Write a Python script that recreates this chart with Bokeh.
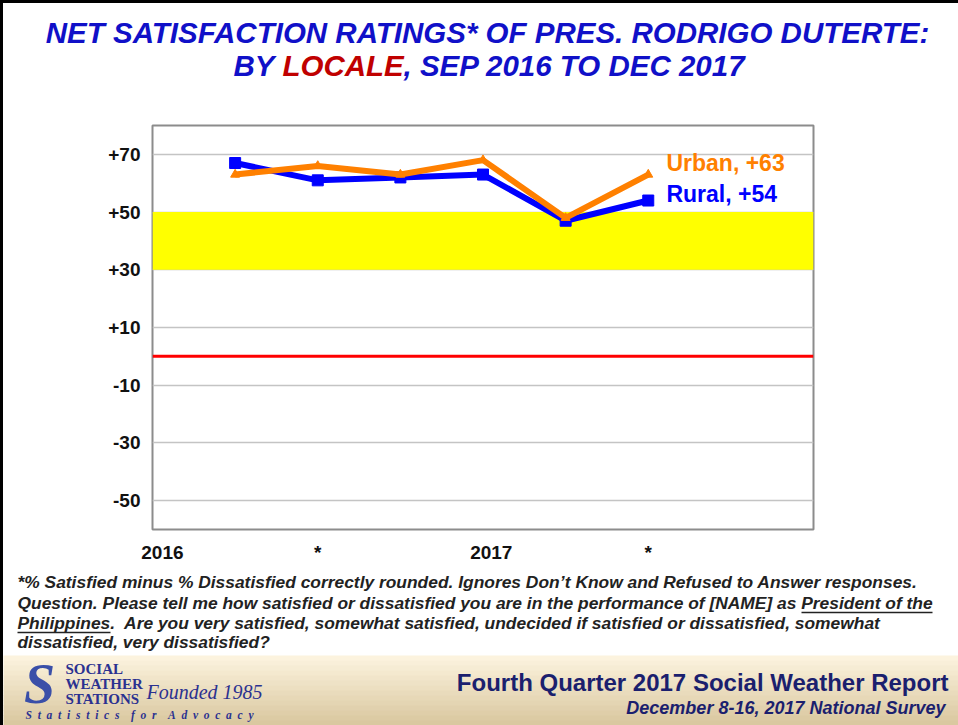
from bokeh.plotting import figure
from bokeh.models import Range1d, FixedTicker, Span, BoxAnnotation, Spacer
from bokeh.layouts import column, row
from bokeh.core.properties import value
from bokeh.embed import file_html
from bokeh.resources import INLINE

# ---------------- data ----------------
quarters = ["Sep 2016", "Dec 2016", "Mar 2017", "Jun 2017", "Sep 2017", "Dec 2017"]
rural = [67, 61, 62, 63, 47, 54]
urban = [63, 66, 63, 68, 48, 63]

y_ticks = [70, 50, 30, 10, -10, -30, -50]
y_tick_labels = ["+70", "+50", "+30", "+10", "-10", "-30", "-50"]
x_tick_pos = [-0.88, 1.0, 3.1, 5.0]
x_tick_labels = ["2016", "*", "2017", "*"]

band_low, band_high = 30, 50
zero_level = 0
y_min, y_max = -60, 80
x_min, x_max = -1, 7

title_line1 = "NET SATISFACTION RATINGS* OF PRES. RODRIGO DUTERTE:"
title_line2 = ["BY", "LOCALE", ", SEP 2016 TO DEC 2017"]
footnote_lines = [
    "*% Satisfied minus % Dissatisfied correctly rounded. Ignores Don\u2019t Know and Refused to Answer responses.",
    "Question. Please tell me how satisfied or dissatisfied you are in the performance of [NAME] as President of the",
    "Philippines.\u00a0 Are you very satisfied, somewhat satisfied, undecided if satisfied or dissatisfied, somewhat",
    "dissatisfied, very dissatisfied?",
]
report_title = "Fourth Quarter 2017 Social Weather Report"
report_sub = "December 8-16, 2017 National Survey"
logo_lines = ["SOCIAL", "WEATHER", "STATIONS"]
logo_founded = "Founded 1985"
logo_words = ["Statistics", "for", "Advocacy"]

# ---------------- styles ----------------
PAGE_W = 958
BW = 3                      # black frame line at left and top
W = PAGE_W - BW
BLUE_T = "#1010C8"
RED_T = "#C00000"
NAVY = "#1B1F6E"
ORANGE = "#FF8000"
BLUE = "#0000FF"
SANS = "'Liberation Sans', Arial, sans-serif"
SERIF = "'Liberation Serif', 'Times New Roman', serif"

# ---------------- title figure ----------------
TH = 100
t = figure(width=W, height=TH - BW, x_range=Range1d(BW, PAGE_W), y_range=Range1d(TH, BW),
           x_axis_type=None, y_axis_type=None, output_backend="svg",
           toolbar_location=None, min_border=0, frame_align=False)
t.grid.visible = False
t.outline_line_color = None
tkw = dict(text_font=value(SANS), text_font_style="bold italic", text_font_size="29.5px",
           text_baseline="middle")
t.text(x=[487], y=[32], text=[title_line1], text_color=BLUE_T, text_align="center", **tkw)
t.text(x=[233], y=[65], text=[title_line2[0]], text_color=BLUE_T, text_align="left", **tkw)
t.text(x=[282], y=[65], text=[title_line2[1]], text_color=RED_T, text_align="left", **tkw)
t.text(x=[403], y=[65], text=[title_line2[2]], text_color=BLUE_T, text_align="left", **tkw)

# ---------------- main chart ----------------
MH = 470
p = figure(width=W, height=MH, x_range=Range1d(x_min, x_max), y_range=Range1d(y_min, y_max),
           output_backend="svg", toolbar_location=None,
           min_border_left=152 - BW, min_border_right=145, min_border_top=25, min_border_bottom=41)
p.outline_line_color = "#8C8C8C"
p.outline_line_width = 2
p.background_fill_color = "white"

p.yaxis.ticker = FixedTicker(ticks=y_ticks)
p.yaxis.major_label_overrides = {k: v for k, v in zip(y_ticks, y_tick_labels)}
p.xaxis.ticker = FixedTicker(ticks=x_tick_pos)
p.xaxis.major_label_overrides = {k: v for k, v in zip(x_tick_pos, x_tick_labels)}
for ax in (p.xaxis, p.yaxis):
    ax.axis_line_color = None
    ax.major_tick_line_color = None
    ax.minor_tick_line_color = None
    ax.major_label_text_font = SANS
    ax.major_label_text_font_style = "bold"
    ax.major_label_text_font_size = "19px"
    ax.major_label_text_color = "#111111"
p.yaxis.major_label_standoff = 6
p.xaxis.major_label_standoff = 6
p.xgrid.visible = False
p.ygrid.grid_line_color = "#C4C4C4"
p.ygrid.grid_line_width = 1.5

p.add_layout(BoxAnnotation(bottom=band_low, top=band_high, fill_color="#FFFF00",
                           fill_alpha=1.0, line_color=None, level="underlay"))
p.add_layout(Span(location=zero_level, dimension="width", line_color="#FF0000", line_width=3))

xs = list(range(len(quarters)))
p.line(xs, rural, line_color=BLUE, line_width=6)
p.scatter(xs, rural, marker="square", size=11, color=BLUE)
p.line(xs, urban, line_color=ORANGE, line_width=6)
p.scatter(xs, urban, marker="triangle", size=9, color=ORANGE)

lx = xs[-1] + 0.22
p.text(x=[lx], y=[urban[-1] + 4], text=[f"Urban, +{urban[-1]}"], text_font=value(SANS),
       text_font_style="bold", text_font_size="23px", text_color=ORANGE,
       text_baseline="middle", text_align="left")
p.text(x=[lx], y=[rural[-1] + 2.4], text=[f"Rural, +{rural[-1]}"], text_font=value(SANS),
       text_font_style="bold", text_font_size="23px", text_color=BLUE,
       text_baseline="middle", text_align="left")

# ---------------- footer figure ----------------
FH = 725 - TH - MH
f = figure(width=W, height=FH, x_range=Range1d(BW, PAGE_W), y_range=Range1d(FH, 0),
           x_axis_type=None, y_axis_type=None, output_backend="svg",
           toolbar_location=None, min_border=0, frame_align=False)
f.grid.visible = False
f.outline_line_color = None

foot_y = [11, 32, 52, 71]
f.text(x=[17] * 4, y=foot_y, text=footnote_lines, text_font=value(SANS),
       text_font_style="bold italic", text_font_size="17.4px", text_color="#222222",
       text_align="left", text_baseline="middle")
# underlines for "President of the" and "Philippines"
f.segment(x0=[801, 17], y0=[42, 62], x1=[932, 110], y1=[42, 62], line_color="#222222", line_width=1.5)

# banner with vertical gradient
b_top, b_bot = 85, FH
n = 14
c0 = (252, 243, 222)
c1 = (218, 200, 160)
tops, bots, cols = [], [], []
for i in range(n):
    fr = i / (n - 1)
    col = "#%02x%02x%02x" % tuple(int(c0[k] + (c1[k] - c0[k]) * fr) for k in range(3))
    tops.append(b_top + (b_bot - b_top) * i / n)
    bots.append(b_top + (b_bot - b_top) * (i + 1) / n + 0.5)
    cols.append(col)
f.quad(left=[0] * n, right=[PAGE_W] * n, top=tops, bottom=bots, fill_color=cols, line_color=None)

f.text(x=[948], y=[112], text=[report_title], text_font=value(SANS), text_font_style="bold",
       text_font_size="24px", text_color=NAVY, text_align="right", text_baseline="middle")
f.text(x=[945], y=[137], text=[report_sub], text_font=value(SANS), text_font_style="bold italic",
       text_font_size="18px", text_color=NAVY, text_align="right", text_baseline="middle")

# logo
f.text(x=[39], y=[113], text=["S"], text_font=value(SERIF), text_font_style="bold italic",
       text_font_size="56px", text_color="#3A4FA8", text_align="center", text_baseline="middle")
f.text(x=[65] * 3, y=[98, 113, 128], text=logo_lines, text_font=value(SERIF),
       text_font_style="bold", text_font_size="15px", text_color="#2B3190",
       text_align="left", text_baseline="middle")
f.text(x=[146], y=[121], text=[logo_founded], text_font=value(SERIF), text_font_style="italic",
       text_font_size="20px", text_color="#2B3190", text_align="left", text_baseline="middle")
tag = ("\u00a0" * 4).join("\u00a0\u00a0".join(w) for w in logo_words)
f.text(x=[25], y=[144], text=[tag], text_font=value(SERIF), text_font_style="bold italic",
       text_font_size="11.5px", text_color="#2B3190", text_align="left", text_baseline="middle")

# black frame lines at the left and top of the slide
left_bar = Spacer(width=BW, height=725, styles={"background-color": "#000000"})
top_bar = Spacer(width=W, height=BW, styles={"background-color": "#000000"})

layout = row(left_bar, column(top_bar, t, p, f, spacing=0), spacing=0)
open("out.html", "w").write(file_html(layout, INLINE))
